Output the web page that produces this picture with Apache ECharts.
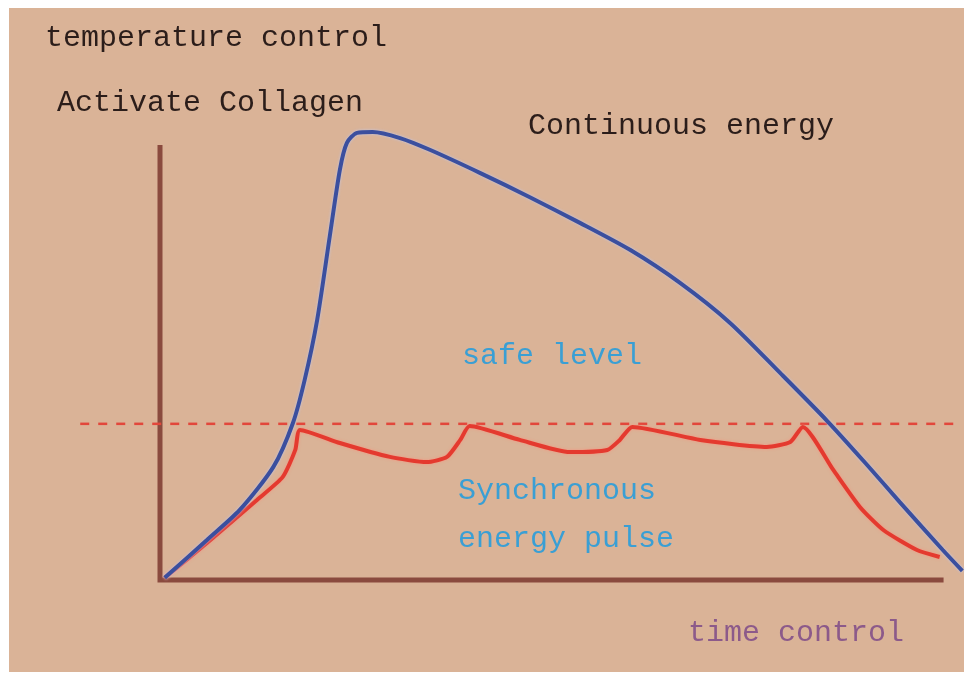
<!DOCTYPE html>
<html>
<head>
<meta charset="utf-8">
<script src="https://cdn.jsdelivr.net/npm/echarts@6/dist/echarts.min.js"></script>
<style>
html,body{margin:0;padding:0;background:#ffffff;}
#chart{width:966px;height:675px;}
</style>
</head>
<body>
<div id="chart"></div>
<script>
// time (0-100) vs temperature (0-100) in arbitrary units
const continuousEnergy = [
  [0.6,0.5],[6.0,9.2],[10.2,16.1],[14.5,26.0],[17.0,36.1],[18.5,46.0],[20.1,59.8],
  [21.7,78.9],[23.0,94.3],[23.9,100.5],[25.2,102.8],[27.2,103.0],[30.7,101.6],
  [34.5,98.9],[40.9,93.6],[47.3,88.0],[53.7,82.1],[60.1,75.9],[66.5,68.3],
  [72.9,59.1],[79.3,47.6],[85.3,36.6],[90.2,26.9],[94.6,17.9],[100.1,6.9],[102.6,2.1]
];
const pulseEnergy = [
  [0.6,0.5],[6.0,8.5],[12.4,18.4],[15.7,23.7],[17.3,29.9],[17.9,34.5],
  [23.0,31.5],[29.4,28.3],[34.1,27.1],[36.7,28.3],[38.4,32.2],[39.6,35.4],
  [46.0,32.2],[52.4,29.4],[57.2,29.9],[58.8,32.2],[60.4,35.2],
  [69.1,32.2],[77.6,30.6],[80.6,31.7],[82.2,35.2],
  [86.1,25.3],[89.5,16.8],[92.5,11.5],[96.8,6.9],[99.7,5.3]
];
const safeLevel = 35.9;
const safeRange = [-10.2, 102.3];
// axis frame: y axis from 100 down to origin, x axis from origin to 100
const axisFrame = [[0,100],[0,0],[100.2,0]];
const labels = {
  yTitle: 'temperature control',
  collagen: 'Activate Collagen',
  continuous: 'Continuous energy',
  safe: 'safe level',
  pulse1: 'Synchronous',
  pulse2: 'energy pulse',
  xTitle: 'time control'
};

const chart = echarts.init(document.getElementById('chart'));
const FONT = '"Liberation Mono", "DejaVu Sans Mono", monospace';
function txt(x, y, text, color) {
  return {type:'text', left:x, top:y, z:10,
    style:{text:text, fill:color, font:'30px ' + FONT}};
}
// scale: x 0..100 -> 160..942 px, y 0..100 -> 580..145 px; extended for overflow
const X0 = -12, X1 = 103, Y0 = -3, Y1 = 106;
const pxX = 7.82, pxY = 4.35;
chart.setOption({
  backgroundColor:'#ffffff',
  animation:false,
  graphic:[
    {type:'rect', shape:{x:9,y:8,width:955,height:664}, style:{fill:'#dab397'}, z:-10},
    txt(45, 23, labels.yTitle, '#2b1d1a'),
    txt(57, 88, labels.collagen, '#2b1d1a'),
    txt(528, 111, labels.continuous, '#2b1d1a'),
    txt(462, 341, labels.safe, '#3a9fd4'),
    txt(458, 476, labels.pulse1, '#3a9fd4'),
    txt(458, 524, labels.pulse2, '#3a9fd4'),
    txt(688, 618, labels.xTitle, '#8c5a8a')
  ],
  grid:{left:160 + X0*pxX, right:966 - (160 + X1*pxX), top:580 - Y1*pxY, bottom:675 - (580 - Y0*pxY), show:false},
  xAxis:{type:'value', min:X0, max:X1, show:false},
  yAxis:{type:'value', min:Y0, max:Y1, show:false},
  series:[
    {type:'line', name:'axes', data:axisFrame, symbol:'none', clip:false,
      lineStyle:{color:'#8a4a3e', width:5, cap:'butt', join:'miter'}, z:2},
    {type:'line', name:'safe level', data:[[safeRange[0],safeLevel],[safeRange[1],safeLevel]],
      clip:false, symbol:'none', lineStyle:{color:'#e2473b', width:2.5, type:[9,9]}, z:3},
    {type:'line', name:'Continuous energy', data:continuousEnergy, clip:false, symbol:'none',
      smooth:0.25, lineStyle:{color:'#3b4f9e', width:4, shadowColor:'rgba(190,200,240,0.9)', shadowBlur:3}, z:5},
    {type:'line', name:'Synchronous energy pulse', data:pulseEnergy, clip:false, symbol:'none',
      smooth:0.2, lineStyle:{color:'#e43a2f', width:4, shadowColor:'rgba(255,140,120,0.8)', shadowBlur:3}, z:4}
  ]
});
</script>
</body>
</html>
